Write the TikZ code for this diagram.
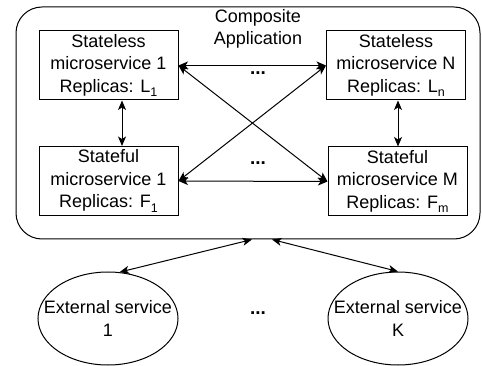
\documentclass[tikz,border=0pt]{standalone}
\usepackage{fontspec}
\setmainfont{Liberation Sans}
\usetikzlibrary{shapes.geometric,arrows.meta,calc}
\newcommand\lowidx[1]{\raisebox{-0.45ex}{\fontsize{12.5}{12.5}\selectfont #1}}
\tikzset{
  txt/.style={font=\fontsize{18}{22.5}\selectfont, align=center, text=black},
  svcbox/.style={txt, draw=black, line width=1pt, rectangle, minimum width=139pt, minimum height=69pt, inner sep=0pt},
  extsvc/.style={draw=black, line width=1pt, ellipse, minimum width=140pt, minimum height=93pt, inner sep=0pt},
  link/.style={line width=1pt, {Stealth[length=9.5pt,width=8pt,inset=2.5pt]}-{Stealth[length=9.5pt,width=8pt,inset=2.5pt]}},
  dots/.style={font=\fontsize{19}{19}\selectfont\bfseries}
}
\begin{document}
\begin{tikzpicture}[x=1pt,y=-1pt]
\useasboundingbox (0,0) rectangle (482,366);

% composite application frame
\node[draw=black, line width=1pt, rounded corners=26pt, minimum width=464pt, minimum height=232pt, inner sep=0pt] (app) at (248,123) {};
\node[txt] (apptitle) at (258,29) {Composite\\Application};

% microservices
\node[svcbox] (s1) at (108.5,65.5) {Stateless\\microservice 1\\Replicas: L\lowidx{1}};
\node[svcbox] (sN) at (396,65.5) {Stateless\\microservice N\\Replicas: L\lowidx{n}};
\node[svcbox] (f1) at (108.5,181) {Stateful\\microservice 1\\Replicas: F\lowidx{1}};
\node[svcbox] (fM) at (397.5,181.5) {Stateful\\microservice M\\Replicas: F\lowidx{m}};

\node[dots] (dtop) at (258,73) {...};
\node[dots] (dmid) at (258,163) {...};

% external services
\node[extsvc] (e1) at (108,318.5) {};
\node[txt] (e1t) at (e1) {External service\\1};
\node[extsvc] (eK) at (398,318.5) {};
\node[txt] (eKt) at (eK) {External service\\K};
\node[dots] (dbot) at (258,313) {...};

% connections between microservices
\draw[link] (s1.east) -- (sN.west);
\draw[link] (f1.east) -- (fM.west);
\draw[link] (s1.east) -- (fM.west);
\draw[link] (sN.west) -- (f1.east);
\draw[link] ($(s1.south)+(13.5,0)$) -- ($(f1.north)+(13.5,0)$);
\draw[link] ($(sN.south)+(2,0)$) -- ($(fM.north)+(0.5,0)$);

% connections to external services
\coordinate (inL) at ($(app.south)+(4,0)$);
\coordinate (inR) at ($(app.south)+(24,0)$);
\draw[link] (e1.76) -- (inL);
\draw[link] (inR) -- (eK.north);
\end{tikzpicture}
\end{document}
